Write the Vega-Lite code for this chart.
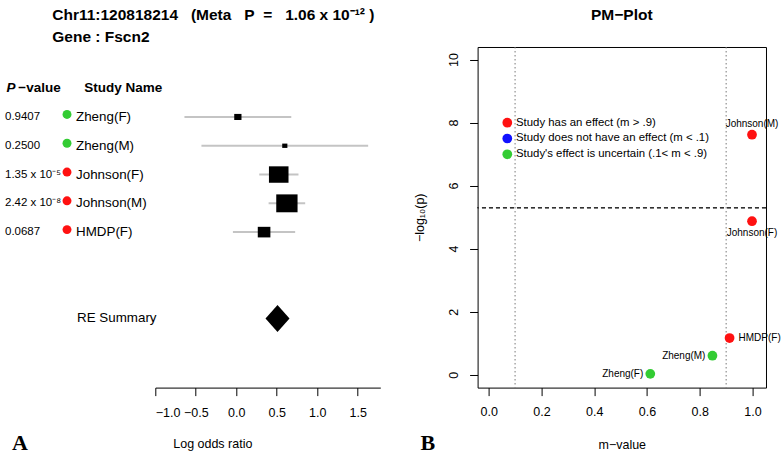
{
  "$schema": "https://vega.github.io/schema/vega-lite/v6.json",
  "padding": {"left": 0, "top": 7, "right": 0, "bottom": 0},
  "bounds": "flush",
  "spacing": 97.3,
  "resolve": {"scale": {"color": "independent"}, "legend": {"color": "independent"}},
  "config": {
    "font": "Liberation Sans",
    "axis": {"labelColor": "#000", "tickColor": "#000", "domainColor": "#000", "titleColor": "#000", "grid": false, "labelFontSize": 12.5, "titleFontSize": 12.5, "titleFontWeight": "normal", "tickSize": 8},
    "title": {"color": "#000"}
  },
  "datasets": {
    "studies": [
      {"study": "Zheng(F)", "row": 1, "p": "0.9407", "logp": 0.0265, "m": 0.6125, "lor": 0.02, "lo": -0.64, "hi": 0.68, "weight": 8.8, "effect": "Study's effect is uncertain (.1< m < .9)"},
      {"study": "Zheng(M)", "row": 2, "p": "0.2500", "logp": 0.602, "m": 0.848, "lor": 0.6, "lo": -0.43, "hi": 1.63, "weight": 4.45, "effect": "Study's effect is uncertain (.1< m < .9)"},
      {"study": "Johnson(F)", "row": 3, "p": "1.35 x 10⁻⁵", "logp": 4.87, "m": 0.998, "lor": 0.525, "lo": 0.284, "hi": 0.769, "weight": 64, "effect": "Study has an effect (m > .9)"},
      {"study": "Johnson(M)", "row": 4, "p": "2.42 x 10⁻⁸", "logp": 7.616, "m": 0.998, "lor": 0.626, "lo": 0.4, "hi": 0.852, "weight": 75.9, "effect": "Study has an effect (m > .9)"},
      {"study": "HMDP(F)", "row": 5, "p": "0.0687", "logp": 1.163, "m": 0.913, "lor": 0.344, "lo": -0.041, "hi": 0.728, "weight": 26.6, "effect": "Study has an effect (m > .9)"}
    ],
    "summary": [
      {"study": "RE Summary", "row": 8, "lor": 0.51}
    ],
    "thresholds": [
      {"m": 0.1}, {"m": 0.9}
    ]
  },
  "hconcat": [
    {
      "width": 57.7,
      "height": 340.6,
      "view": {"stroke": null},
      "title": {"text": "A", "orient": "bottom", "anchor": "start", "frame": "group", "font": "Liberation Serif", "fontSize": 22, "fontWeight": "bold", "dx": 12, "offset": 45},
      "data": {"name": "studies"},
      "encoding": {
        "y": {"field": "row", "type": "quantitative", "scale": {"domain": [-1.43, 10.4], "reverse": true, "nice": false, "zero": false}, "axis": null}
      },
      "layer": [
        {
          "mark": {"type": "text", "align": "left", "baseline": "middle", "fontSize": 11.5, "dx": 5},
          "encoding": {
            "x": {"datum": "P -value", "type": "nominal", "scale": {"type": "point", "domain": ["P -value", "Study Name"], "padding": 0}, "axis": null},
            "text": {"field": "p"}
          }
        },
        {
          "mark": {"type": "point", "filled": true, "opacity": 1, "size": 80, "shape": "circle", "xOffset": 9.3, "yOffset": -2.5},
          "encoding": {
            "x": {"datum": "Study Name", "type": "nominal"},
            "color": {"field": "effect", "type": "nominal", "scale": {"domain": ["Study has an effect (m > .9)", "Study does not have an effect (m < .1)", "Study's effect is uncertain (.1< m < .9)"], "range": ["#FF1111", "#1111FF", "#33CC33"]}, "legend": null}
          }
        },
        {
          "mark": {"type": "text", "align": "left", "baseline": "middle", "fontSize": 13.4, "dx": 18.3},
          "encoding": {
            "x": {"datum": "Study Name", "type": "nominal"},
            "text": {"field": "study"}
          }
        },
        {
          "data": {"values": [{"label": "P", "row": 0}]},
          "mark": {"type": "text", "align": "left", "baseline": "middle", "fontSize": 13.5, "fontWeight": "bold", "fontStyle": "italic", "dx": 6.5},
          "encoding": {
            "x": {"datum": "P -value", "type": "nominal"},
            "text": {"field": "label"}
          }
        },
        {
          "data": {"values": [{"label": "−value", "row": 0}]},
          "mark": {"type": "text", "align": "left", "baseline": "middle", "fontSize": 13.5, "fontWeight": "bold", "dx": 18.3},
          "encoding": {
            "x": {"datum": "P -value", "type": "nominal"},
            "text": {"field": "label"}
          }
        },
        {
          "data": {"values": [{"label": "Study Name", "row": 0}]},
          "mark": {"type": "text", "align": "left", "baseline": "middle", "fontSize": 13.5, "fontWeight": "bold", "dx": 26.6},
          "encoding": {
            "x": {"datum": "Study Name", "type": "nominal"},
            "text": {"field": "label"}
          }
        },
        {
          "data": {"name": "summary"},
          "mark": {"type": "text", "align": "left", "baseline": "middle", "fontSize": 13.4, "dx": 19.3},
          "encoding": {
            "x": {"datum": "Study Name", "type": "nominal"},
            "text": {"field": "study"}
          }
        }
      ]
    },
    {
      "width": 225,
      "height": 340.6,
      "view": {"stroke": null},
      "title": {"text": ["Chr11:120818214\u00a0\u00a0\u00a0(Meta\u00a0\u00a0\u00a0P\u00a0\u00a0=\u00a0\u00a0\u00a01.06\u00a0x\u00a010⁻¹²\u00a0)", "Gene : Fscn2"], "anchor": "start", "frame": "group", "dx": -103, "fontSize": 15.5, "fontWeight": "bold", "lineHeight": 22, "offset": 1},
      "data": {"name": "studies"},
      "encoding": {
        "y": {"field": "row", "type": "quantitative", "scale": {"domain": [-1.43, 10.4], "reverse": true, "nice": false, "zero": false}, "axis": null}
      },
      "layer": [
        {
          "data": {"values": [{"lor": 0}]},
          "mark": {"type": "rule", "color": "#C8C8C8", "strokeDash": [6, 5], "strokeWidth": 1.5},
          "encoding": {
            "x": {"field": "lor", "type": "quantitative", "title": "Log odds ratio"},
            "y": {"datum": -1.1, "type": "quantitative"},
            "y2": {"datum": 10.4}
          }
        },
        {
          "mark": {"type": "rule", "color": "#C4C4C4", "strokeWidth": 2},
          "encoding": {
            "x": {"field": "lo", "type": "quantitative", "title": "Log odds ratio", "scale": {"domain": [-1, 1.78], "nice": false, "zero": false},
              "axis": {"values": [-1, -0.5, 0, 0.5, 1, 1.5], "format": ".1f", "labelPadding": 11, "labelFontSize": 12.5, "titlePadding": 18, "titleX": 57, "titleFontSize": 12.5}},
            "x2": {"field": "hi"}
          }
        },
        {
          "mark": {"type": "point", "filled": true, "opacity": 1, "color": "#000", "shape": "M-1,-0.84L1,-0.84L1,0.84L-1,0.84Z"},
          "encoding": {
            "x": {"field": "lor", "type": "quantitative", "title": "Log odds ratio"},
            "size": {"field": "weight", "type": "quantitative", "scale": {"domain": [0, 75.9], "range": [0, 454], "zero": true}, "legend": null}
          }
        },
        {
          "data": {"name": "summary"},
          "mark": {"type": "point", "filled": true, "opacity": 1, "color": "#000", "size": 729, "shape": "M0,-1L0.89,0L0,1L-0.89,0Z"},
          "encoding": {
            "x": {"field": "lor", "type": "quantitative", "title": "Log odds ratio"}
          }
        }
      ]
    },
    {
      "title": {"text": "B", "orient": "bottom", "anchor": "start", "frame": "group", "font": "Liberation Serif", "fontSize": 22, "fontWeight": "bold", "dx": -57, "offset": -18},
      "hconcat": [
        {
          "width": 288.4,
          "height": 340.6,
          "view": {"stroke": "#000", "strokeWidth": 1},
          "title": {"text": "PM−Plot", "fontSize": 15.5, "fontWeight": "bold", "offset": 23, "anchor": "middle", "frame": "group"},
          "data": {"name": "studies"},
          "layer": [
            {
              "data": {"name": "thresholds"},
              "mark": {"type": "rule", "color": "#777777", "strokeDash": [1.5, 2.5], "strokeWidth": 1},
              "encoding": {
                "x": {"field": "m", "type": "quantitative", "title": "m−value"}
              }
            },
            {
              "mark": {"type": "rule", "color": "#333333", "strokeDash": [4, 3], "strokeWidth": 1},
              "encoding": {
                "y": {"datum": 5.3, "type": "quantitative", "title": "−log₁₀(p)"}
              }
            },
            {
              "mark": {"type": "point", "filled": true, "opacity": 1, "size": 95, "shape": "circle"},
              "encoding": {
                "x": {"field": "m", "type": "quantitative", "title": "m−value", "scale": {"domain": [-0.042, 1.051], "nice": false, "zero": false},
                  "axis": {"values": [0, 0.2, 0.4, 0.6, 0.8, 1.0], "format": ".1f", "domain": false, "labelPadding": 10, "titlePadding": 20}},
                "y": {"field": "logp", "type": "quantitative", "title": "−log₁₀(p)", "scale": {"domain": [-0.41, 10.4], "nice": false, "zero": false},
                  "axis": {"values": [0, 2, 4, 6, 8, 10], "domain": false, "labelAngle": -90, "labelAlign": "center", "labelBaseline": "bottom", "labelPadding": 9, "titlePadding": 21}},
                "color": {"field": "effect", "type": "nominal", "scale": {"domain": ["Study has an effect (m > .9)", "Study does not have an effect (m < .1)", "Study's effect is uncertain (.1< m < .9)"], "range": ["#FF1111", "#1111FF", "#33CC33"]},
                  "legend": {"orient": "none", "legendX": 24, "legendY": 70, "title": null, "symbolType": "circle", "symbolSize": 95, "symbolStrokeWidth": 0, "labelFontSize": 11.4, "labelColor": "#000", "labelOffset": 3, "rowPadding": 2.8, "padding": 0, "labelLimit": 300}}
              }
            },
            {
              "transform": [{"filter": "datum.study === 'Johnson(M)'"}],
              "mark": {"type": "text", "align": "center", "baseline": "middle", "fontSize": 10, "dy": -11},
              "encoding": {
                "x": {"field": "m", "type": "quantitative", "title": "m−value"},
                "y": {"field": "logp", "type": "quantitative", "title": "−log₁₀(p)"},
                "text": {"field": "study"}
              }
            },
            {
              "transform": [{"filter": "datum.study === 'Johnson(F)'"}],
              "mark": {"type": "text", "align": "center", "baseline": "middle", "fontSize": 10, "dy": 12},
              "encoding": {
                "x": {"field": "m", "type": "quantitative", "title": "m−value"},
                "y": {"field": "logp", "type": "quantitative", "title": "−log₁₀(p)"},
                "text": {"field": "study"}
              }
            },
            {
              "transform": [{"filter": "datum.study === 'HMDP(F)'"}],
              "mark": {"type": "text", "align": "left", "baseline": "middle", "fontSize": 10, "dx": 9},
              "encoding": {
                "x": {"field": "m", "type": "quantitative", "title": "m−value"},
                "y": {"field": "logp", "type": "quantitative", "title": "−log₁₀(p)"},
                "text": {"field": "study"}
              }
            },
            {
              "transform": [{"filter": "datum.study === 'Zheng(M)' || datum.study === 'Zheng(F)'"}],
              "mark": {"type": "text", "align": "right", "baseline": "middle", "fontSize": 10, "dx": -7},
              "encoding": {
                "x": {"field": "m", "type": "quantitative", "title": "m−value"},
                "y": {"field": "logp", "type": "quantitative", "title": "−log₁₀(p)"},
                "text": {"field": "study"}
              }
            }
          ]
        }
      ]
    }
  ]
}
